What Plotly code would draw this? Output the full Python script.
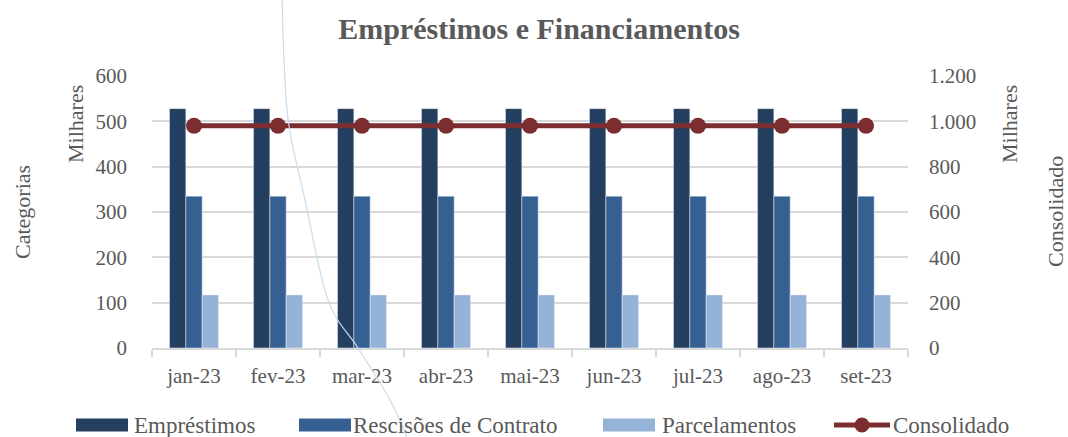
import plotly.graph_objects as go

categorias = ["jan-23", "fev-23", "mar-23", "abr-23", "mai-23", "jun-23", "jul-23", "ago-23", "set-23"]
emprestimos = [528, 528, 528, 528, 528, 528, 528, 528, 528]
rescisoes = [335, 335, 335, 335, 335, 335, 335, 335, 335]
parcelamentos = [117, 117, 117, 117, 117, 117, 117, 117, 117]
consolidado = [980, 980, 980, 980, 980, 980, 980, 980, 980]

FONT = "Liberation Serif"
GRAY = "#595959"
GRID = "#D9D9D9"
C_EMP = "#243F60"
C_RES = "#376092"
C_PAR = "#95B3D7"
C_CON = "#7C2D30"

W, H = 1068, 437
L, R, T, B = 152, 160, 76, 89
PW, PH = W - L - R, H - T - B


def px(x):
    return (x - L) / PW


def py(y):
    return 1 - (y - T) / PH


fig = go.Figure()
fig.add_trace(go.Bar(x=categorias, y=emprestimos, name="Empréstimos", marker_color=C_EMP))
fig.add_trace(go.Bar(x=categorias, y=rescisoes, name="Rescisões de Contrato", marker_color=C_RES))
fig.add_trace(go.Bar(x=categorias, y=parcelamentos, name="Parcelamentos", marker_color=C_PAR))
fig.add_trace(go.Scatter(x=categorias, y=consolidado, name="Consolidado", yaxis="y2",
                         mode="lines+markers",
                         line=dict(color=C_CON, width=5),
                         marker=dict(color=C_CON, size=16)))

shapes = []

# decorative thin curve present in the reference image (Catmull-Rom -> cubic Bezier)
pts = [(282, -5), (284, 60), (289, 126), (305, 200), (328, 300), (358, 348), (390, 400), (410, 445)]
P = [(px(x), py(y)) for x, y in pts]
d = f"M {P[0][0]:.4f},{P[0][1]:.4f}"
for i in range(len(P) - 1):
    p0 = P[i - 1] if i > 0 else P[i]
    p1, p2 = P[i], P[i + 1]
    p3 = P[i + 2] if i + 2 < len(P) else P[i + 1]
    c1 = (p1[0] + (p2[0] - p0[0]) / 6, p1[1] + (p2[1] - p0[1]) / 6)
    c2 = (p2[0] - (p3[0] - p1[0]) / 6, p2[1] - (p3[1] - p1[1]) / 6)
    d += f" C {c1[0]:.4f},{c1[1]:.4f} {c2[0]:.4f},{c2[1]:.4f} {p2[0]:.4f},{p2[1]:.4f}"
shapes.append(dict(type="path", xref="paper", yref="paper", path=d,
                   line=dict(color="#C5DDEF", width=1.2), layer="above"))

# manual legend (matches reference layout)
LEG_Y = 425
legend_items = [("Empréstimos", C_EMP, 76, 133), ("Rescisões de Contrato", C_RES, 299, 352),
                ("Parcelamentos", C_PAR, 603, 661)]
for name, col, x0, tx in legend_items:
    shapes.append(dict(type="rect", xref="paper", yref="paper",
                       x0=px(x0), x1=px(x0 + 52), y0=py(LEG_Y + 6.5), y1=py(LEG_Y - 6.5),
                       fillcolor=col, line=dict(width=0)))
shapes.append(dict(type="line", xref="paper", yref="paper",
                   x0=px(834), x1=px(890), y0=py(LEG_Y), y1=py(LEG_Y),
                   line=dict(color=C_CON, width=5)))
shapes.append(dict(type="circle", xref="paper", yref="paper",
                   x0=px(854.5), x1=px(869.5), y0=py(LEG_Y + 7.5), y1=py(LEG_Y - 7.5),
                   fillcolor=C_CON, line=dict(width=0)))

annotations = [
    dict(text="Categorias", x=px(22), y=py(212), textangle=-90, size=22),
    dict(text="Milhares", x=px(75), y=py(124), textangle=-90, size=22),
    dict(text="Milhares", x=px(1009), y=py(124), textangle=-90, size=22),
    dict(text="Consolidado", x=px(1055), y=py(212), textangle=-90, size=22),
]
for a in annotations:
    a.update(xanchor="center", yanchor="middle")
for name, col, x0, tx in legend_items + [("Consolidado", C_CON, 834, 892)]:
    annotations.append(dict(text=name, x=px(tx), y=py(LEG_Y), xanchor="left", yanchor="middle",
                            size=23))
for a in annotations:
    sz = a.pop("size")
    a.update(xref="paper", yref="paper", showarrow=False, borderpad=0,
             font=dict(family=FONT, size=sz, color=GRAY))

fig.update_layout(
    width=W, height=H,
    margin=dict(l=L, r=R, t=T, b=B, autoexpand=False),
    paper_bgcolor="white", plot_bgcolor="white",
    separators=",.",
    showlegend=False,
    barmode="group", bargap=0.417, bargroupgap=0,
    title=dict(text="<b>Empréstimos e Financiamentos</b>", x=px(539), xref="paper", xanchor="center",
               y=1 - 28 / H, yanchor="middle",
               font=dict(family=FONT, size=30, color=GRAY)),
    font=dict(family=FONT, size=21, color=GRAY),
    xaxis=dict(type="category", range=[-0.5, len(categorias) - 0.5],
               showgrid=False, showline=True, linecolor=GRID, linewidth=1.5,
               ticks="outside", tickson="boundaries", ticklen=7, tickcolor=GRID, tickwidth=1.5,
               tickfont=dict(family=FONT, size=21, color=GRAY), ticklabelstandoff=8),
    yaxis=dict(range=[0, 600], dtick=100, showgrid=True, gridcolor=GRID, gridwidth=1.5,
               zeroline=False, showline=False,
               tickfont=dict(family=FONT, size=21, color=GRAY), ticklabelstandoff=24),
    yaxis2=dict(range=[0, 1200], dtick=200, overlaying="y", side="right", showgrid=False,
                zeroline=False, showline=False, tickformat=",d",
                tickfont=dict(family=FONT, size=21, color=GRAY), ticklabelstandoff=20),
    shapes=shapes,
    annotations=annotations,
)

fig.write_html("out.html", config={"displayModeBar": False},
               post_script="document.body.style.margin='0';document.body.style.overflow='hidden';")
